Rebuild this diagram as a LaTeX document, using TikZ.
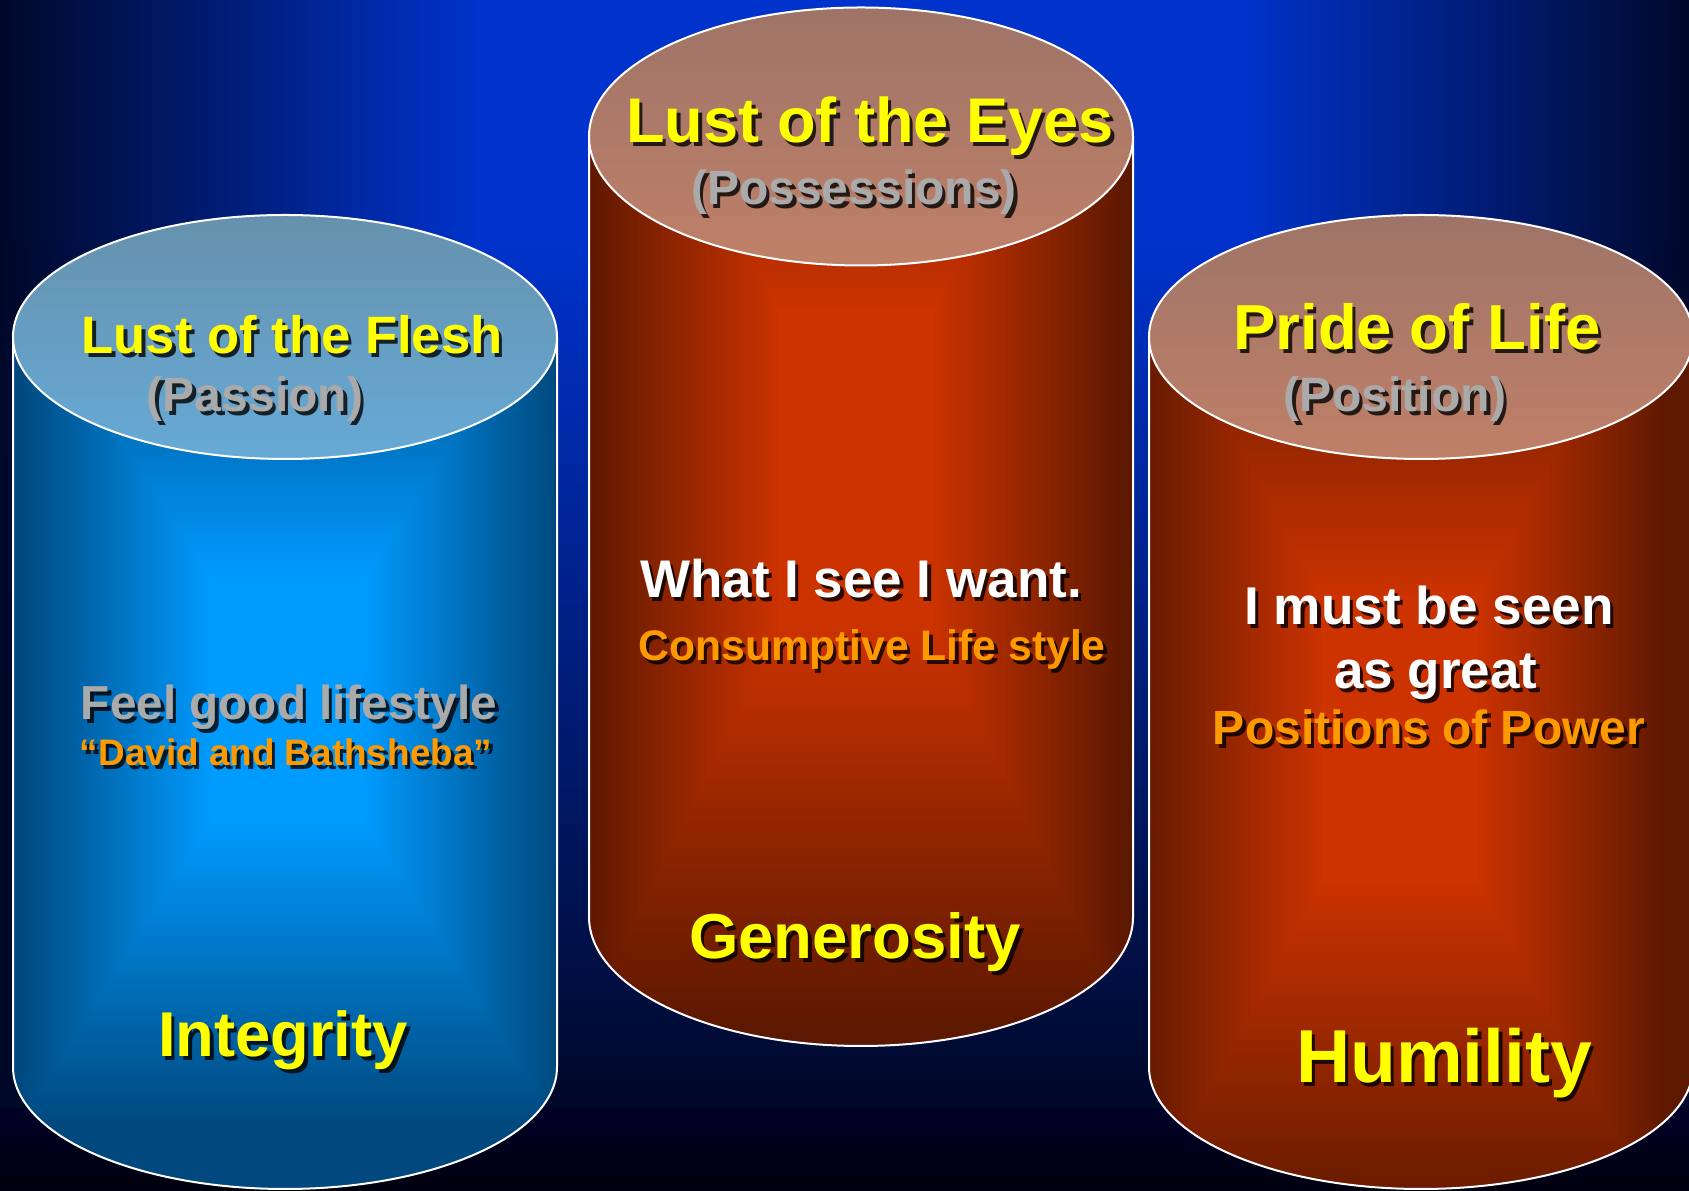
\documentclass[tikz,border=0pt]{standalone}
\usepackage{fontspec}
\setmainfont{Liberation Sans}
\usetikzlibrary{fadings}
\definecolor{bgedge}{RGB}{0,8,42}
\definecolor{bgmid}{RGB}{0,51,204}
\definecolor{bgdark}{RGB}{0,8,40}
\definecolor{floortop}{RGB}{0,0,38}
\definecolor{floorbot}{RGB}{0,0,14}
\definecolor{bluein}{RGB}{0,155,255}
\definecolor{blueout}{RGB}{0,72,125}
\definecolor{redin}{RGB}{204,51,0}
\definecolor{redout}{RGB}{92,24,0}
\definecolor{btop}{RGB}{102,145,172}
\definecolor{bbot}{RGB}{102,170,215}
\definecolor{rtop}{RGB}{158,116,104}
\definecolor{rbot}{RGB}{192,128,104}
\definecolor{ttyellow}{RGB}{255,255,0}
\definecolor{ttgray}{RGB}{170,170,170}
\definecolor{ttorange}{RGB}{255,153,0}
\tikzfading[name=fadeup, top color=transparent!100, bottom color=transparent!0]
\tikzset{
  outl/.style={draw=white, line width=2pt},
  sz/.style={font=\bfseries\fontsize{#1}{#1}\selectfont},
  txt/.style={inner sep=0pt, anchor=base},
}
\newcommand\shtext[6]{%
  \node[txt, sz=#4, text=black, text opacity=0.8] (#1s) at (#2+3.5,#3-3.5) {#6};
  \node[txt, sz=#4, text=#5] (#1) at (#2,#3) {#6};}
% rectangular "from centre" gradient: cx, cy, half width, half height, inner, outer
\newcommand\rectgrad[6]{%
  \fill[#6] (#1-#3-40,-10) rectangle (#1+#3+40,1200);
  \foreach \gI in {0,...,79}{%
    \pgfmathsetmacro\gT{1-\gI/80}%
    \pgfmathsetmacro\gS{100*(1-min(1,max(0,(\gT-0.28)/0.72)))}%
    \colorlet{gtmp}{#5!\gS!#6}%
    \fill[gtmp] (#1-\gT*#3,#2-\gT*#4) rectangle (#1+\gT*#3,#2+\gT*#4);}}
\begin{document}
\begin{tikzpicture}[x=1pt,y=1pt]
\useasboundingbox (0,0) rectangle (1689,1191);
% background
\shade[left color=bgedge, right color=bgmid] (0,82) rectangle (480,1191);
\fill[bgmid] (479,82) rectangle (1241,1191);
\shade[left color=bgmid, right color=bgedge] (1240,82) rectangle (1689,1191);
\fill[bgdark, path fading=fadeup] (0,82) rectangle (1689,950);
\shade[top color=floortop, bottom color=floorbot] (0,0) rectangle (1689,82);
% left cylinder
\begin{scope}
  \clip (13,854) -- (13,124) arc[start angle=180,end angle=360,x radius=272,y radius=122] -- (557,854) -- cycle;
  \rectgrad{288}{491}{272}{430}{bluein}{blueout}
\end{scope}
\draw[outl] (13,854) -- (13,124) arc[start angle=180,end angle=360,x radius=272,y radius=122] -- (557,854);
\shadedraw[top color=btop, bottom color=bbot, outl] (285,854) ellipse [x radius=272, y radius=122];
% middle cylinder
\begin{scope}
  \clip (589,1054.5) -- (589,274) arc[start angle=180,end angle=360,x radius=272,y radius=129] -- (1133,1054.5) -- cycle;
  \rectgrad{856}{721}{272}{560}{redin}{redout}
\end{scope}
\draw[outl] (589,1054.5) -- (589,274) arc[start angle=180,end angle=360,x radius=272,y radius=129] -- (1133,1054.5);
\shadedraw[top color=rtop, bottom color=rbot, outl] (861,1054.5) ellipse [x radius=272, y radius=129];
% right cylinder
\begin{scope}
  \clip (1149,854) -- (1149,124) arc[start angle=180,end angle=360,x radius=272,y radius=122] -- (1693,854) -- cycle;
  \rectgrad{1400}{451}{272}{500}{redin}{redout}
\end{scope}
\draw[outl] (1149,854) -- (1149,124) arc[start angle=180,end angle=360,x radius=272,y radius=122] -- (1693,854);
\shadedraw[top color=rtop, bottom color=rbot, outl] (1421,854) ellipse [x radius=272, y radius=122];
% texts
\shtext{lf}{292}{837}{52.6}{ttyellow}{Lust of the Flesh}
\shtext{pa}{255}{779}{48}{ttgray}{(Passion)}
\shtext{fg}{289}{471}{47.7}{ttgray}{Feel good lifestyle}
\shtext{db}{286}{425}{36.9}{ttorange}{“David and Bathsheba”}
\shtext{ig}{283}{134}{63.3}{ttyellow}{Integrity}
\shtext{le}{870}{1048}{63.1}{ttyellow}{Lust of the Eyes}
\shtext{po}{854}{986}{48}{ttgray}{(Possessions)}
\shtext{ws}{861}{593}{53}{white}{What I see I want.}
\shtext{cl}{872}{530}{42.7}{ttorange}{Consumptive Life style}
\shtext{ge}{855}{232}{63.5}{ttyellow}{Generosity}
\shtext{pl}{1417}{841}{63.6}{ttyellow}{Pride of Life}
\shtext{ps}{1395}{779}{48.2}{ttgray}{(Position)}
\shtext{im}{1429}{566}{53.2}{white}{I must be seen}
\shtext{ag}{1436}{502}{53}{white}{as great}
\shtext{pp}{1429}{446}{48}{ttorange}{Positions of Power}
\shtext{hu}{1444}{108}{75}{ttyellow}{Humility}
\end{tikzpicture}
\end{document}
